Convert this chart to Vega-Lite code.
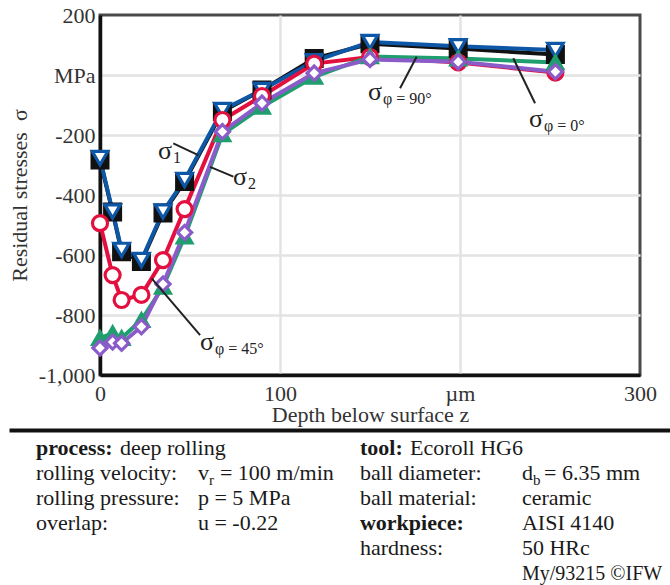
{
  "$schema": "https://vega.github.io/schema/vega-lite/v6.json",
  "width": 540,
  "height": 360,
  "autosize": {"type": "none"},
  "padding": {"left": 100, "top": 15, "right": 30, "bottom": 210},
  "background": "white",
  "config": {
    "font": "Liberation Serif",
    "view": {"stroke": "#4a4a4a", "strokeWidth": 3},
    "axis": {
      "labelFont": "Liberation Serif", "titleFont": "Liberation Serif",
      "labelFontSize": 22, "titleFontSize": 22, "titleFontWeight": "normal",
      "labelColor": "#333333", "titleColor": "#333333",
      "ticks": false, "domainColor": "#111111", "domainWidth": 3.5,
      "gridWidth": 2.5, "labelFlush": false, "labelOverlap": false
    },
    "text": {"font": "Liberation Serif"}
  },
  "datasets": {
    "series": [
      {"series": "σφ=0°", "z": 0, "s": -283}, {"series": "σφ=0°", "z": 7, "s": -457}, {"series": "σφ=0°", "z": 12, "s": -589}, {"series": "σφ=0°", "z": 23, "s": -622}, {"series": "σφ=0°", "z": 35, "s": -460}, {"series": "σφ=0°", "z": 47, "s": -355}, {"series": "σφ=0°", "z": 68, "s": -122}, {"series": "σφ=0°", "z": 90, "s": -50}, {"series": "σφ=0°", "z": 119, "s": 55}, {"series": "σφ=0°", "z": 150, "s": 104}, {"series": "σφ=0°", "z": 199, "s": 88}, {"series": "σφ=0°", "z": 253, "s": 68},
      {"series": "σ1", "z": 0, "s": -277}, {"series": "σ1", "z": 7, "s": -455}, {"series": "σ1", "z": 12, "s": -583}, {"series": "σ1", "z": 23, "s": -617}, {"series": "σ1", "z": 35, "s": -455}, {"series": "σ1", "z": 47, "s": -350}, {"series": "σ1", "z": 68, "s": -117}, {"series": "σ1", "z": 90, "s": -50}, {"series": "σ1", "z": 119, "s": 46}, {"series": "σ1", "z": 150, "s": 110}, {"series": "σ1", "z": 199, "s": 96}, {"series": "σ1", "z": 253, "s": 83},
      {"series": "σφ=45°", "z": 0, "s": -494}, {"series": "σφ=45°", "z": 7, "s": -667}, {"series": "σφ=45°", "z": 12, "s": -750}, {"series": "σφ=45°", "z": 23, "s": -733}, {"series": "σφ=45°", "z": 35, "s": -617}, {"series": "σφ=45°", "z": 47, "s": -447}, {"series": "σφ=45°", "z": 68, "s": -150}, {"series": "σφ=45°", "z": 90, "s": -70}, {"series": "σφ=45°", "z": 119, "s": 38}, {"series": "σφ=45°", "z": 150, "s": 60}, {"series": "σφ=45°", "z": 199, "s": 42}, {"series": "σφ=45°", "z": 253, "s": 8},
      {"series": "σφ=90°", "z": 0, "s": -877}, {"series": "σφ=90°", "z": 7, "s": -861}, {"series": "σφ=90°", "z": 12, "s": -877}, {"series": "σφ=90°", "z": 23, "s": -817}, {"series": "σφ=90°", "z": 35, "s": -706}, {"series": "σφ=90°", "z": 47, "s": -539}, {"series": "σφ=90°", "z": 68, "s": -198}, {"series": "σφ=90°", "z": 90, "s": -106}, {"series": "σφ=90°", "z": 119, "s": -6}, {"series": "σφ=90°", "z": 150, "s": 62}, {"series": "σφ=90°", "z": 199, "s": 55}, {"series": "σφ=90°", "z": 253, "s": 42},
      {"series": "σ2", "z": 0, "s": -910}, {"series": "σ2", "z": 7, "s": -890}, {"series": "σ2", "z": 12, "s": -894}, {"series": "σ2", "z": 23, "s": -839}, {"series": "σ2", "z": 35, "s": -697}, {"series": "σ2", "z": 47, "s": -525}, {"series": "σ2", "z": 68, "s": -189}, {"series": "σ2", "z": 90, "s": -94}, {"series": "σ2", "z": 119, "s": 6}, {"series": "σ2", "z": 150, "s": 52}, {"series": "σ2", "z": 199, "s": 44}, {"series": "σ2", "z": 253, "s": 11}
    ],
    "notes": [
      {"main": "σ", "sub": "1", "z": 32.2, "s": -280},
      {"main": "σ", "sub": "2", "z": 73.9, "s": -367},
      {"main": "σ", "sub": "φ = 45°", "z": 55.6, "s": -917},
      {"main": "σ", "sub": "φ = 90°", "z": 148.9, "s": -83},
      {"main": "σ", "sub": "φ = 0°", "z": 238.3, "s": -173}
    ],
    "leaders": [
      {"z": 40.7, "s": -228, "z2": 54.6, "s2": -267},
      {"z": 61.1, "s": -306, "z2": 74.1, "s2": -339},
      {"z": 28.7, "s": -678, "z2": 55.6, "s2": -867},
      {"z": 175.9, "s": 61, "z2": 166.7, "s2": -44},
      {"z": 229.6, "s": 56, "z2": 241.7, "s2": -94}
    ],
    "table": [
      {"row": 1, "col": "A", "text": "process:", "role": "bold"},
      {"row": 1, "col": "A", "text": "deep rolling", "role": "after-bold"},
      {"row": 2, "col": "A", "text": "rolling velocity:", "role": "plain"},
      {"row": 2, "col": "B", "text": "v", "role": "plain"},
      {"row": 2, "col": "B", "text": "r", "role": "sub"},
      {"row": 2, "col": "B", "text": "= 100 m/min", "role": "after-sub"},
      {"row": 3, "col": "A", "text": "rolling pressure:", "role": "plain"},
      {"row": 3, "col": "B", "text": "\u00a0\u00a0p = 5 MPa", "role": "plain"},
      {"row": 4, "col": "A", "text": "overlap:", "role": "plain"},
      {"row": 4, "col": "B", "text": "\u00a0\u00a0u = -0.22", "role": "plain"},
      {"row": 1, "col": "C", "text": "tool:", "role": "bold"},
      {"row": 1, "col": "C", "text": "Ecoroll HG6", "role": "after-bold"},
      {"row": 2, "col": "C", "text": "ball diameter:", "role": "plain"},
      {"row": 2, "col": "D", "text": "d", "role": "plain"},
      {"row": 2, "col": "D", "text": "b", "role": "sub"},
      {"row": 2, "col": "D", "text": "= 6.35 mm", "role": "after-sub"},
      {"row": 3, "col": "C", "text": "ball material:", "role": "plain"},
      {"row": 3, "col": "D", "text": "ceramic", "role": "plain"},
      {"row": 4, "col": "C", "text": "workpiece:", "role": "bold"},
      {"row": 4, "col": "D", "text": "AISI 4140", "role": "plain"},
      {"row": 5, "col": "C", "text": "hardness:", "role": "plain"},
      {"row": 5, "col": "D", "text": "50 HRc", "role": "plain"},
      {"row": 6, "col": "D", "text": "My/93215 ©IFW", "role": "credit"}
    ]
  },
  "layer": [
    {
      "encoding": {
        "x": {
          "field": "z", "type": "quantitative",
          "scale": {"domain": [0, 300], "nice": false, "zero": false},
          "axis": {
            "values": [0, 100, 200, 300],
            "labelExpr": "datum.value == 200 ? 'µm' : datum.label",
            "title": "Depth below surface z",
            "labelPadding": 8, "titlePadding": 0,
            "grid": true,
            "gridColor": {"condition": {"test": "datum.value == 0 || datum.value == 300", "value": "transparent"}, "value": "#e3e3e3"}
          }
        },
        "y": {
          "field": "s", "type": "quantitative",
          "scale": {"domain": [-1000, 200], "nice": false, "zero": false},
          "axis": {
            "values": [-1000, -800, -600, -400, -200, 0, 200],
            "labelExpr": "datum.value == 0 ? 'MPa' : (datum.value == -1000 ? '-1,000' : '' + datum.value)",
            "title": "Residual stresses\u00a0\u00a0σ",
            "labelPadding": 5, "titlePadding": 7,
            "grid": true,
            "gridColor": {"condition": {"test": "datum.value == 200 || datum.value == -1000", "value": "transparent"}, "value": "#e3e3e3"}
          }
        }
      },
      "layer": [
        {
          "data": {"name": "series"},
          "mark": {"type": "line", "strokeWidth": 4},
          "encoding": {
            "color": {"field": "series", "type": "nominal", "legend": null,
              "scale": {"domain": ["σφ=0°", "σ1", "σφ=45°", "σφ=90°", "σ2"], "range": ["#111111", "#0d57a6", "#e3103f", "#1f9e6e", "#8b5bc9"]}}
          }
        },
        {
          "data": {"name": "series"},
          "mark": {"type": "point", "filled": true, "opacity": 1, "strokeWidth": 3.2},
          "encoding": {
            "shape": {"field": "series", "type": "nominal", "legend": null,
              "scale": {"domain": ["σφ=0°", "σ1", "σφ=45°", "σφ=90°", "σ2"], "range": ["square", "triangle-down", "circle", "triangle-up", "diamond"]}},
            "fill": {"field": "series", "type": "nominal", "legend": null,
              "scale": {"domain": ["σφ=0°", "σ1", "σφ=45°", "σφ=90°", "σ2"], "range": ["#111111", "#ffffff", "#ffffff", "#1f9e6e", "#ffffff"]}},
            "stroke": {"field": "series", "type": "nominal", "legend": null,
              "scale": {"domain": ["σφ=0°", "σ1", "σφ=45°", "σφ=90°", "σ2"], "range": ["#111111", "#0d57a6", "#e3103f", "#1f9e6e", "#8b5bc9"]}},
            "size": {"field": "series", "type": "nominal", "legend": null,
              "scale": {"domain": ["σφ=0°", "σ1", "σφ=45°", "σφ=90°", "σ2"], "range": [250, 200, 150, 110, 210]}}
          }
        },
        {
          "data": {"name": "leaders"},
          "mark": {"type": "rule", "color": "#222222", "strokeWidth": 2},
          "encoding": {"x2": {"field": "z2"}, "y2": {"field": "s2"}}
        },
        {
          "data": {"name": "notes"},
          "mark": {"type": "text", "align": "left", "baseline": "alphabetic", "fontSize": 26, "color": "#222222"},
          "encoding": {"text": {"field": "main"}}
        },
        {
          "data": {"name": "notes"},
          "mark": {"type": "text", "align": "left", "baseline": "alphabetic", "fontSize": 16, "dx": 15, "dy": 4, "color": "#222222"},
          "encoding": {"text": {"field": "sub"}}
        }
      ]
    },
    {
      "data": {"name": "table"},
      "encoding": {
        "x": {
          "field": "col", "type": "nominal",
          "scale": {"type": "point", "domain": ["A", "B", "C", "D"], "range": [-91, 570], "padding": 0.54, "align": 0.154},
          "axis": {"orient": "bottom", "offset": 55, "domain": true, "domainColor": "#111111", "domainWidth": 4, "labels": false, "ticks": false, "grid": false, "title": null}
        },
        "y": {
          "field": "row", "type": "quantitative",
          "scale": {"domain": [1, 6], "range": [440, 565], "nice": false, "zero": false},
          "axis": null
        }
      },
      "layer": [
        {
          "transform": [{"filter": "datum.role == 'plain'"}],
          "mark": {"type": "text", "align": "left", "baseline": "alphabetic", "fontSize": 22, "color": "#1a1a1a"},
          "encoding": {"text": {"field": "text"}}
        },
        {
          "transform": [{"filter": "datum.role == 'bold'"}],
          "mark": {"type": "text", "align": "left", "baseline": "alphabetic", "fontSize": 22, "fontWeight": "bold", "color": "#1a1a1a"},
          "encoding": {"text": {"field": "text"}}
        },
        {
          "transform": [{"filter": "datum.role == 'after-bold' && datum.col == 'A'"}],
          "mark": {"type": "text", "align": "left", "baseline": "alphabetic", "fontSize": 22, "dx": 84, "color": "#1a1a1a"},
          "encoding": {"text": {"field": "text"}}
        },
        {
          "transform": [{"filter": "datum.role == 'after-bold' && datum.col == 'C'"}],
          "mark": {"type": "text", "align": "left", "baseline": "alphabetic", "fontSize": 22, "dx": 50, "color": "#1a1a1a"},
          "encoding": {"text": {"field": "text"}}
        },
        {
          "transform": [{"filter": "datum.role == 'sub'"}],
          "mark": {"type": "text", "align": "left", "baseline": "alphabetic", "fontSize": 15, "dx": 11, "dy": 5, "color": "#1a1a1a"},
          "encoding": {"text": {"field": "text"}}
        },
        {
          "transform": [{"filter": "datum.role == 'after-sub'"}],
          "mark": {"type": "text", "align": "left", "baseline": "alphabetic", "fontSize": 22, "dx": 22, "color": "#1a1a1a"},
          "encoding": {"text": {"field": "text"}}
        },
        {
          "transform": [{"filter": "datum.role == 'credit'"}],
          "mark": {"type": "text", "align": "left", "baseline": "alphabetic", "fontSize": 20, "color": "#1a1a1a"},
          "encoding": {"text": {"field": "text"}}
        }
      ]
    }
  ],
  "resolve": {"scale": {"x": "independent", "y": "independent"}}
}
